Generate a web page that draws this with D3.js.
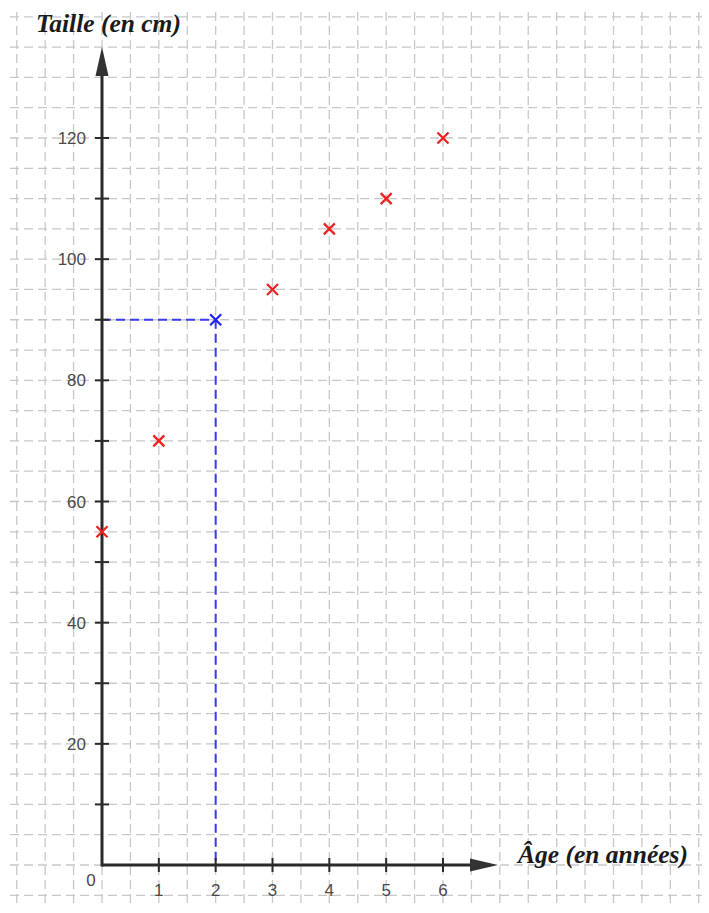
<!DOCTYPE html>
<html><head><meta charset="utf-8">
<script src="https://cdn.jsdelivr.net/npm/d3@7"></script>
<style>body{margin:0;background:#fff}svg{display:block}</style>
</head><body>
<script>
const ages = [0, 1, 3, 4, 5, 6];
const heights = [55, 70, 95, 105, 110, 120];
const highlightAge = [2];
const highlightHeight = [90];
const xTicks = [0, 1, 2, 3, 4, 5, 6];
const yTickLabels = [20, 40, 60, 80, 100, 120];
const yTicks = [10, 20, 30, 40, 50, 60, 70, 80, 90, 100, 110, 120];

const W = 709, H = 913;
const svg = d3.select("body").append("svg").attr("width", W).attr("height", H);
const x = d3.scaleLinear().domain([0, 6]).range([102, 443]);
const y = d3.scaleLinear().domain([0, 120]).range([865, 138]);

// grid
const gx = d3.range(-1.5, 10.51, 0.5);
const gy = d3.range(-5, 140.1, 5);
const grid = svg.append("g").attr("stroke", "#c8c8c8").attr("stroke-width", 1.3).attr("stroke-dasharray", "9,5");
grid.selectAll("line.v").data(gx).join("line").attr("class","v")
  .attr("x1", d => x(d)).attr("x2", d => x(d)).attr("y1", 12).attr("y2", 905);
grid.selectAll("line.h").data(gy).join("line").attr("class","h")
  .attr("y1", d => y(d)).attr("y2", d => y(d)).attr("x1", 10).attr("x2", 702);

// blue dashed guides
const gb = svg.append("g").attr("stroke", "#3b3bf0").attr("stroke-width", 2).attr("stroke-dasharray", "9,5");
gb.append("line").attr("x1", x(0)).attr("x2", x(highlightAge[0])).attr("y1", y(highlightHeight[0])).attr("y2", y(highlightHeight[0]));
gb.append("line").attr("x1", x(highlightAge[0])).attr("x2", x(highlightAge[0])).attr("y1", y(highlightHeight[0])).attr("y2", y(0));

// axes
const ax = svg.append("g").attr("stroke", "#2a2a2a");
ax.append("line").attr("x1", x(0)).attr("x2", 475).attr("y1", y(0)).attr("y2", y(0)).attr("stroke-width", 3);
ax.append("line").attr("x1", x(0)).attr("x2", x(0)).attr("y1", y(0)+1.5).attr("y2", 72).attr("stroke-width", 3);
svg.append("path").attr("d", `M498,${y(0)} L470,${y(0)-6.5} L470,${y(0)+6.5} Z`).attr("fill", "#333");
svg.append("path").attr("d", `M${x(0)},47 L${x(0)-6.5},76 L${x(0)+6.5},76 Z`).attr("fill", "#333");

// ticks
ax.selectAll("line.xt").data(xTicks.slice(1)).join("line").attr("class","xt")
  .attr("x1", d => x(d)).attr("x2", d => x(d)).attr("y1", y(0)-7).attr("y2", y(0)+7).attr("stroke-width", 2);
ax.selectAll("line.yt").data(yTicks).join("line").attr("class","yt")
  .attr("y1", d => y(d)).attr("y2", d => y(d)).attr("x1", x(0)-7).attr("x2", x(0)+7).attr("stroke-width", 2);

// labels
const lf = "'Liberation Sans', Arial, sans-serif";
svg.selectAll("text.xl").data(xTicks.slice(1)).join("text").attr("class","xl")
  .attr("x", d => x(d)).attr("y", 896).attr("text-anchor", "middle")
  .attr("font-family", lf).attr("font-size", 17).attr("fill", "#4a4a4a").text(d => d);
svg.append("text").attr("x", 91).attr("y", 886).attr("text-anchor", "middle")
  .attr("font-family", lf).attr("font-size", 17).attr("fill", "#4a4a4a").text("0");
svg.selectAll("text.yl").data(yTickLabels).join("text").attr("class","yl")
  .attr("x", 86).attr("y", d => y(d) + 6).attr("text-anchor", "end")
  .attr("font-family", lf).attr("font-size", 17).attr("fill", "#4a4a4a").text(d => d);

// titles
const tf = "'Liberation Serif', 'Times New Roman', serif";
svg.append("text").attr("x", 36).attr("y", 32).attr("font-family", tf).attr("font-style", "italic")
  .attr("font-weight", "bold").attr("font-size", 25.5).attr("fill", "#1a1a1a").text("Taille (en cm)");
svg.append("text").attr("x", 518).attr("y", 863).attr("font-family", tf).attr("font-style", "italic")
  .attr("font-weight", "bold").attr("font-size", 25.5).attr("fill", "#1a1a1a").text("Âge (en années)");

// markers
function cross(g, px, py, color) {
  const s = 5.5;
  g.append("path").attr("d", `M${px-s},${py-s}L${px+s},${py+s}M${px-s},${py+s}L${px+s},${py-s}`)
    .attr("stroke", color).attr("stroke-width", 2.3).attr("fill", "none");
}
const mg = svg.append("g");
ages.forEach((a, i) => cross(mg, x(a), y(heights[i]), "#ee2222"));
highlightAge.forEach((a, i) => cross(mg, x(a), y(highlightHeight[i]), "#2222ee"));
</script>
</body></html>
